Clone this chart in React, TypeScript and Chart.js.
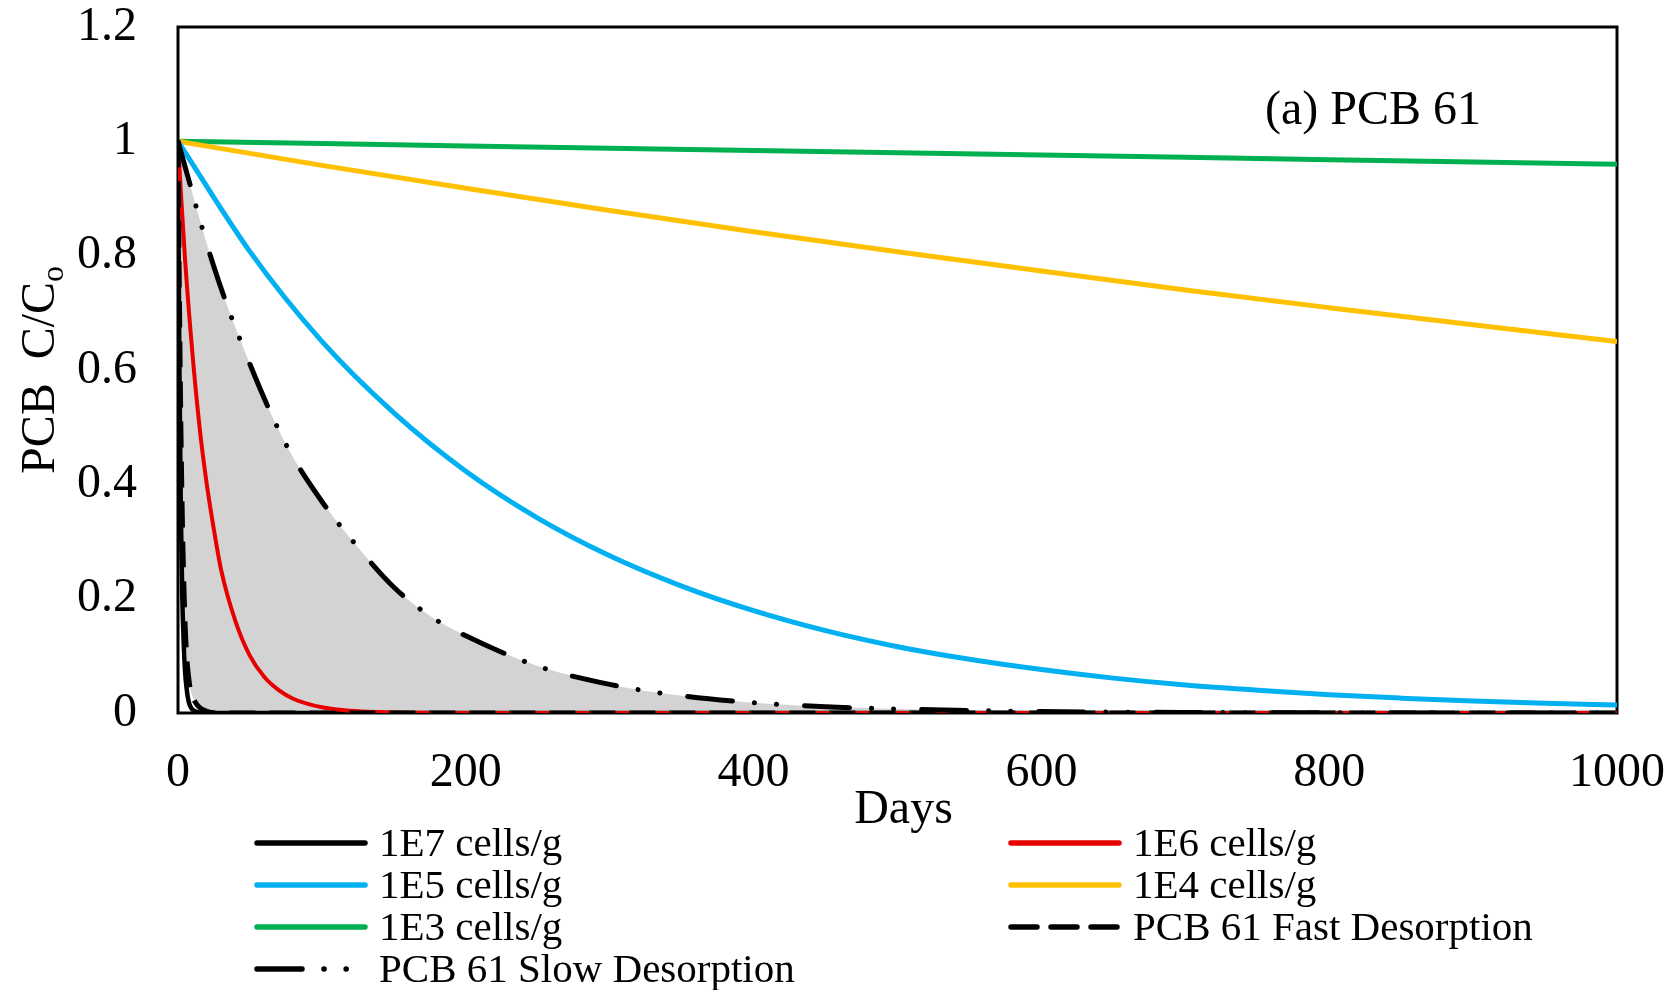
import React, { useEffect, useRef } from 'react';
import { Chart, registerables } from 'chart.js';

Chart.register(...registerables);

// ---- data ----
const days1E7 = [0, 1, 2, 3, 4, 5, 7, 10, 15, 20, 100, 500, 1000];
const vals1E7 = [1, 0.6, 0.35, 0.2, 0.12, 0.07, 0.025, 0.006, 0.001, 0, 0, 0, 0];

const days1E6 = [0, 2, 5, 10, 15, 20, 25, 30, 40, 50, 60, 70, 80, 100, 120, 140, 160, 200, 300, 400, 500, 600, 700, 800, 900, 1000];
const vals1E6 = [1, 0.91, 0.79, 0.63, 0.5, 0.4, 0.32, 0.25, 0.16, 0.1, 0.063, 0.04, 0.025, 0.01, 0.004, 0.0016, 0.0006, 0, 0, 0, 0, 0, 0, 0, 0, 0];

const days1E5 = [0, 50, 100, 150, 200, 250, 300, 350, 400, 450, 500, 550, 600, 650, 700, 750, 800, 850, 900, 950, 1000];
const vals1E5 = [1, 0.807, 0.65, 0.525, 0.423, 0.341, 0.275, 0.222, 0.179, 0.144, 0.116, 0.094, 0.076, 0.061, 0.049, 0.04, 0.032, 0.026, 0.021, 0.017, 0.014];

const days1E4 = [0, 100, 200, 300, 400, 500, 600, 700, 800, 900, 1000];
const vals1E4 = [1, 0.958, 0.918, 0.879, 0.842, 0.807, 0.773, 0.74, 0.709, 0.679, 0.65];

const days1E3 = [0, 100, 200, 300, 400, 500, 600, 700, 800, 900, 1000];
const vals1E3 = [1, 0.996, 0.992, 0.988, 0.984, 0.98, 0.976, 0.972, 0.968, 0.964, 0.96];

const daysFast = [0, 1, 2, 3, 4, 5, 6, 8, 10, 14, 20, 30, 100, 500, 1000];
const valsFast = [1, 0.72, 0.5, 0.34, 0.23, 0.15, 0.1, 0.05, 0.03, 0.012, 0.003, 0, 0, 0, 0];

const daysSlow = [0, 25, 50, 75, 100, 125, 150, 175, 200, 250, 300, 350, 400, 450, 500, 600, 700, 800, 900, 1000];
const valsSlow = [1, 0.78, 0.61, 0.47, 0.37, 0.29, 0.22, 0.17, 0.135, 0.082, 0.05, 0.03, 0.018, 0.011, 0.007, 0.0025, 0.001, 0.0003, 0.0001, 0];

const seriesLabels = ['1E7 cells/g', '1E6 cells/g', '1E5 cells/g', '1E4 cells/g', '1E3 cells/g', 'PCB 61 Fast Desorption', 'PCB 61 Slow Desorption'];
const seriesColors = ['#000000', '#e60000', '#00b0f0', '#ffc000', '#00b050', '#000000', '#000000'];

const xTickStep = 200;
const yTickStep = 0.2;
const xTitle = 'Days';
const yTitleMain = 'PCB  C/C';
const yTitleSub = 'o';
const panelLabel = '(a) PCB 61';

const FONT = "'Liberation Serif', 'Times New Roman', serif";

export default function App() {
  const ref = useRef<HTMLCanvasElement>(null);

  useEffect(() => {
    const canvas = ref.current;
    if (!canvas) return;
    const pts = (d: number[], v: number[]) => d.map((x, i) => ({ x, y: v[i] }));

    const slowDash = [45, 22, 0.1, 22, 0.1, 28];
    const fastDash = [26, 14];

    const datasets: any[] = [
      { data: pts(days1E7, vals1E7), borderWidth: 4.5, order: 3 },
      { data: pts(days1E6, vals1E6), borderWidth: 4, order: 2 },
      { data: pts(days1E5, vals1E5), borderWidth: 5, order: 4 },
      { data: pts(days1E4, vals1E4), borderWidth: 5, order: 5 },
      { data: pts(days1E3, vals1E3), borderWidth: 5, order: 6 },
      { data: pts(daysFast, valsFast), borderWidth: 5, borderDash: fastDash, order: 1 },
      { data: pts(daysSlow, valsSlow), borderWidth: 5, borderDash: slowDash, borderCapStyle: 'round', order: 0, fill: 5, backgroundColor: '#d3d3d3' },
    ].map((d, i) => ({
      label: seriesLabels[i],
      borderColor: seriesColors[i],
      pointRadius: 0,
      cubicInterpolationMode: 'monotone',
      fill: false,
      ...d,
    }));

    const decor = {
      id: 'decor',
      beforeDatasetsDraw(chart: any) {
        const { ctx, chartArea: a } = chart;
        ctx.save();
        ctx.strokeStyle = '#000';
        ctx.lineWidth = 3;
        ctx.strokeRect(a.left, a.top, a.right - a.left, a.bottom - a.top);
        ctx.restore();
      },
      afterDraw(chart: any) {
        const { ctx, chartArea: a } = chart;
        ctx.save();
        ctx.fillStyle = '#000';
        // x title
        ctx.font = `48px ${FONT}`;
        ctx.textAlign = 'center';
        ctx.textBaseline = 'alphabetic';
        ctx.fillText(xTitle, (a.left + a.right) / 2 + 6, 823);
        // panel label
        ctx.textAlign = 'left';
        ctx.fillText(panelLabel, 1265, 124);
        // y title (rotated, with subscript)
        ctx.save();
        ctx.font = `48px ${FONT}`;
        const w1 = ctx.measureText(yTitleMain).width;
        ctx.font = `32px ${FONT}`;
        const w2 = ctx.measureText(yTitleSub).width;
        const total = w1 + w2;
        const cy = (a.top + a.bottom) / 2;
        ctx.translate(54, cy + total / 2);
        ctx.rotate(-Math.PI / 2);
        ctx.textAlign = 'left';
        ctx.font = `48px ${FONT}`;
        ctx.fillText(yTitleMain, 0, 0);
        ctx.font = `32px ${FONT}`;
        ctx.fillText(yTitleSub, w1, 9);
        ctx.restore();
        // legend
        const leftCol = [0, 2, 4, 6];
        const rightCol = [1, 3, 5];
        const rows = [843, 885, 927, 969];
        const drawItem = (idx: number, x0: number, y: number) => {
          const ds = chart.data.datasets[idx];
          ctx.save();
          ctx.strokeStyle = ds.borderColor;
          ctx.lineWidth = 5.5;
          ctx.lineCap = 'round';
          ctx.setLineDash(ds.borderDash || []);
          ctx.beginPath();
          ctx.moveTo(x0, y);
          ctx.lineTo(x0 + 108, y);
          ctx.stroke();
          ctx.restore();
          ctx.font = `41px ${FONT}`;
          ctx.textAlign = 'left';
          ctx.textBaseline = 'alphabetic';
          ctx.fillStyle = '#000';
          ctx.fillText(ds.label, x0 + 122, y + 13);
        };
        leftCol.forEach((idx, r) => drawItem(idx, 257, rows[r]));
        rightCol.forEach((idx, r) => drawItem(idx, 1011, rows[r]));
        ctx.restore();
      },
    };

    const chart = new Chart(canvas, {
      type: 'line',
      data: { datasets },
      options: {
        animation: false,
        responsive: false,
        devicePixelRatio: 1,
        layout: { padding: { left: 0, right: 57, top: 27, bottom: 0 } },
        plugins: {
          legend: { display: false },
          tooltip: { enabled: false },
          filler: { drawTime: 'beforeDatasetsDraw' },
        },
        scales: {
          x: {
            type: 'linear',
            min: 0,
            max: 1000,
            grid: { display: false, drawTicks: false },
            border: { display: false },
            ticks: {
              stepSize: xTickStep,
              padding: 32,
              color: '#000',
              font: { family: FONT, size: 48 },
              maxRotation: 0,
              callback: (v: any) => String(Math.round(Number(v))),
            },
            afterFit: (s: any) => {
              s.height = 277;
              s.paddingLeft = 0;
              s.paddingRight = 0;
              s.paddingTop = 0;
              s.paddingBottom = 0;
            },
          },
          y: {
            type: 'linear',
            min: 0,
            max: 1.2,
            grid: { display: false, drawTicks: false },
            border: { display: false },
            ticks: {
              stepSize: yTickStep,
              padding: 41,
              color: '#000',
              font: { family: FONT, size: 48 },
              callback: (v: any) => String(Number(Number(v).toFixed(1))),
            },
            afterFit: (s: any) => {
              s.width = 178;
              s.paddingLeft = 0;
              s.paddingRight = 0;
              s.paddingTop = 0;
              s.paddingBottom = 0;
            },
          },
        },
      } as any,
      plugins: [decor],
    });

    return () => chart.destroy();
  }, []);

  return (
    <div style={{ position: 'absolute', left: 0, top: 0, width: 1674, height: 990, background: '#fff' }}>
      <canvas ref={ref} width={1674} height={990} style={{ display: 'block', width: 1674, height: 990 }} />
    </div>
  );
}
